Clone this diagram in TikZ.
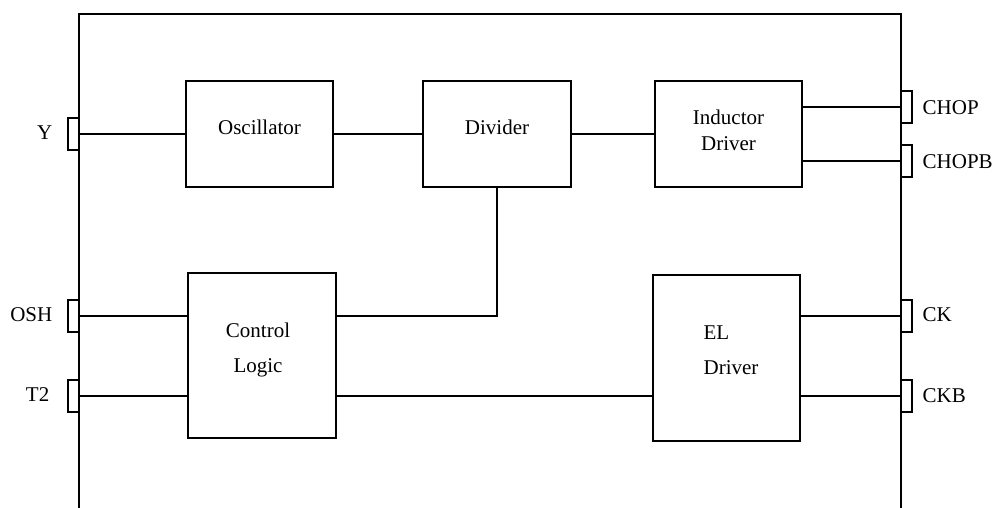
\documentclass[tikz,border=0pt]{standalone}
\usepackage{fontspec}
\setmainfont{Liberation Serif}
\begin{document}
\begin{tikzpicture}[x=1pt,y=-1pt,line width=1.4pt,
  blk/.style={draw,rectangle,inner sep=0pt,minimum width=147pt,minimum height=106pt},
  blab/.style={font=\fontsize{21}{26}\selectfont,align=center},
  pin/.style={draw,fill=white,rectangle,inner sep=0pt,minimum width=11pt,minimum height=32pt,line width=1.4pt},
  plab/.style={font=\fontsize{21}{25}\selectfont,inner sep=0pt},
  wire/.style={line width=1.4pt}]
\useasboundingbox (0,0) rectangle (994,508);
% frame
\draw[wire] (79,508) -- (79,14) -- (901,14) -- (901,508);
% blocks
\node[blk] (osc) at (259.5,134) {};
\node[blk,minimum width=148pt] (div) at (497,134) {};
\node[blk] (ind) at (728.5,134) {};
\node[blk,minimum width=148pt,minimum height=165pt] (ctl) at (262,355.5) {};
\node[blk,minimum height=166pt] (el) at (726.5,358) {};
\node[blab] (osct) at (259.5,127) {Oscillator};
\node[blab] (divt) at (497,127) {Divider};
\node[blab] (indt) at (728.5,130) {Inductor\\Driver};
\node[blab,font=\fontsize{21}{35}\selectfont] (ctlt) at (258,349.5) {Control\\Logic};
\node[blab,align=left,font=\fontsize{21}{35}\selectfont] (elt) at (731,350.5) {EL\\Driver};
% pins
\node[pin] (pY) at (73.5,134) {};
\node[pin] (pOSH) at (73.5,316) {};
\node[pin] (pT2) at (73.5,396) {};
\node[pin] (pCHOP) at (906.5,107) {};
\node[pin] (pCHOPB) at (906.5,161) {};
\node[pin] (pCK) at (906.5,316) {};
\node[pin] (pCKB) at (906.5,396) {};
% pin labels
\node[plab,anchor=east] (lY) at (53,133) {Y};
\node[plab,anchor=east] (lOSH) at (53,315) {OSH};
\node[plab,anchor=east] (lT2) at (50,395) {T2};
\node[plab,anchor=west] (lCHOP) at (922,108) {CHOP};
\node[plab,anchor=west] (lCHOPB) at (922,162) {CHOPB};
\node[plab,anchor=west] (lCK) at (922,315) {CK};
\node[plab,anchor=west] (lCKB) at (922,396) {CKB};
% wires
\draw[wire] (pY.east) -- (osc.west);
\draw[wire] (osc.east) -- (div.west);
\draw[wire] (div.east) -- (ind.west);
\draw[wire] (pCHOP.west) -- (pCHOP.west -| ind.east);
\draw[wire] (pCHOPB.west) -- (pCHOPB.west -| ind.east);
\draw[wire] (pOSH.east) -- (pOSH.east -| ctl.west);
\draw[wire] (pT2.east) -- (pT2.east -| ctl.west);
\draw[wire] (div.south) |- (ctl.east |- pOSH);
\draw[wire] (ctl.east |- pT2) -- (el.west |- pT2);
\draw[wire] (pCK.west) -- (pCK.west -| el.east);
\draw[wire] (pCKB.west) -- (pCKB.west -| el.east);
\end{tikzpicture}
\end{document}
